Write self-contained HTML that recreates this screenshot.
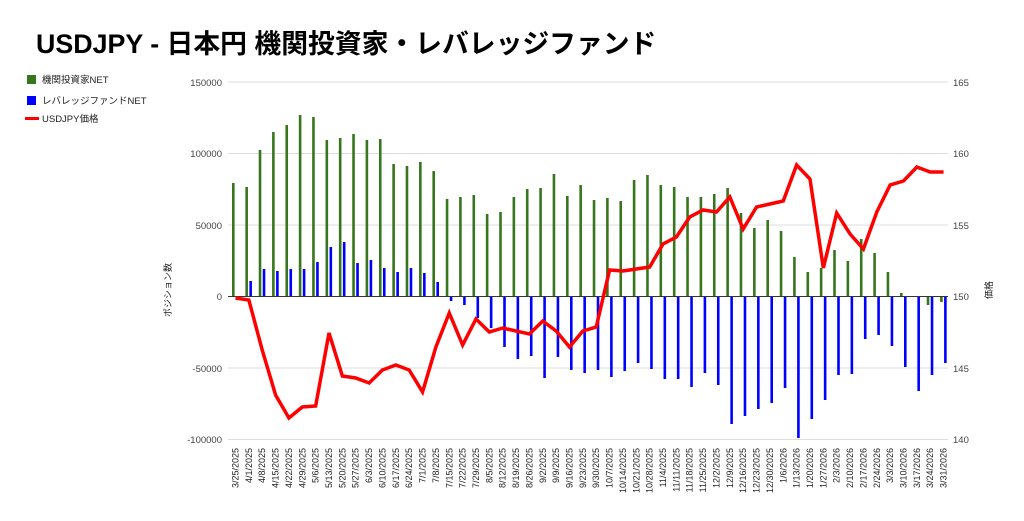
<!DOCTYPE html>
<html><head><meta charset="utf-8"><style>
body{margin:0;background:#fff;width:1024px;height:521px;overflow:hidden}
svg{display:block;font-family:"Liberation Sans","Noto Sans CJK JP",sans-serif}
</style></head><body>
<svg id="s" width="1024" height="521" viewBox="0 0 1024 521">
<text x="36" y="53" font-size="26.8" font-weight="bold" fill="#000">USDJPY - 日本円 機関投資家・レバレッジファンド</text>
<rect x="27" y="75" width="9" height="9" fill="#38761d"/>
<text x="42" y="83" font-size="9.5" fill="#222">機関投資家NET</text>
<rect x="27" y="96" width="9" height="9" fill="#0000ff"/>
<text x="42" y="104" font-size="9.5" fill="#222">レバレッジファンドNET</text>
<rect x="25" y="117" width="14" height="3" fill="#ff0000"/>
<text x="42" y="122" font-size="9.5" fill="#222">USDJPY価格</text>
<g stroke="#ddd" stroke-width="1">
<line x1="228" x2="948" y1="82" y2="82"/><line x1="228" x2="948" y1="153.5" y2="153.5"/>
<line x1="228" x2="948" y1="225" y2="225"/><line x1="228" x2="948" y1="368" y2="368"/>
<line x1="228" x2="948" y1="439.5" y2="439.5"/>
</g>
<g font-size="9.5" fill="#444" text-anchor="end">
<text x="222" y="86">150000</text><text x="222" y="157">100000</text><text x="222" y="229">50000</text>
<text x="222" y="300">0</text><text x="222" y="372">-50000</text><text x="222" y="443">-100000</text>
</g>
<g font-size="9.5" fill="#444" text-anchor="start">
<text x="953" y="86">165</text><text x="953" y="157">160</text><text x="953" y="229">155</text>
<text x="953" y="300">150</text><text x="953" y="372">145</text><text x="953" y="443">140</text>
</g>
<text transform="translate(171,290) rotate(-90)" font-size="9" fill="#222" text-anchor="middle">ポジション数</text>
<text transform="translate(992,290) rotate(-90)" font-size="9" fill="#222" text-anchor="middle">価格</text>
<g id="bars"></g>
<line x1="228" x2="948" y1="296.5" y2="296.5" stroke="#333" stroke-width="1"/>
<polyline id="ln" fill="none" stroke="#ff0000" stroke-width="3.5" stroke-linejoin="miter"/>
<g id="lbl" font-size="9" fill="#222" text-anchor="end">
<text>3/25/2025</text><text>4/1/2025</text><text>4/8/2025</text><text>4/15/2025</text><text>4/22/2025</text><text>4/29/2025</text><text>5/6/2025</text><text>5/13/2025</text><text>5/20/2025</text><text>5/27/2025</text><text>6/3/2025</text><text>6/10/2025</text><text>6/17/2025</text><text>6/24/2025</text><text>7/1/2025</text><text>7/8/2025</text><text>7/15/2025</text><text>7/22/2025</text><text>7/29/2025</text><text>8/5/2025</text><text>8/12/2025</text><text>8/19/2025</text><text>8/26/2025</text><text>9/2/2025</text><text>9/9/2025</text><text>9/16/2025</text><text>9/23/2025</text><text>9/30/2025</text><text>10/7/2025</text><text>10/14/2025</text><text>10/21/2025</text><text>10/28/2025</text><text>11/4/2025</text><text>11/11/2025</text><text>11/18/2025</text><text>11/25/2025</text><text>12/2/2025</text><text>12/9/2025</text><text>12/16/2025</text><text>12/23/2025</text><text>12/30/2025</text><text>1/6/2026</text><text>1/13/2026</text><text>1/20/2026</text><text>1/27/2026</text><text>2/3/2026</text><text>2/10/2026</text><text>2/17/2026</text><text>2/24/2026</text><text>3/3/2026</text><text>3/10/2026</text><text>3/17/2026</text><text>3/24/2026</text><text>3/31/2026</text>
</g>
</svg>
<script>
var G=[183,187,150,132,125,115,117,140,138,134,140,139,164,166,162,171,199,197,195,214,212,197,189,188,174,196,185,200,198,201,180,175,185,187,197,197,194,188,213,228,220,231,257,272,268,250,261,239,253,272,293,296,305,302];
var B=[296,281,269,271,269,269,262,247,242,263,260,268,272,268,273,282,301,305,318,328,347,359,356,378,357,370,373,370,377,371,363,369,379,379,387,373,385,424,416,409,403,388,438,419,400,375,374,339,335,346,367,391,375,363];
var R=[298,300,350,395,418,407,406,333,376,378,383,370,365,370,392,347,313,345,319,332,328,331,334,321,331,347,331,327,270,271,269,267,244,237,217,210,212,197,229,207,204,201,165,179,268,213,234,249,212,185,181,167,172,172];
var Z=296.5,ns="http://www.w3.org/2000/svg",g=document.getElementById('bars'),pts=[];
function r(x,y1,y2,c){var e=document.createElementNS(ns,'rect');e.setAttribute('x',x);e.setAttribute('y',Math.min(y1,y2));e.setAttribute('width',2.6);e.setAttribute('height',Math.abs(y2-y1));e.setAttribute('fill',c);g.appendChild(e);}
var L=document.querySelectorAll('#lbl text');
for(var i=0;i<54;i++){var c=235.5+13.36*i;r(c-3.5,Z,G[i],'#38761d');r(c+0.5,Z,B[i],'#0000ff');pts.push(c+','+R[i]);
L[i].setAttribute('transform','translate('+(c+3)+',448) rotate(-90)');}
document.getElementById('ln').setAttribute('points',pts.join(' '));
</script>
</body></html>
